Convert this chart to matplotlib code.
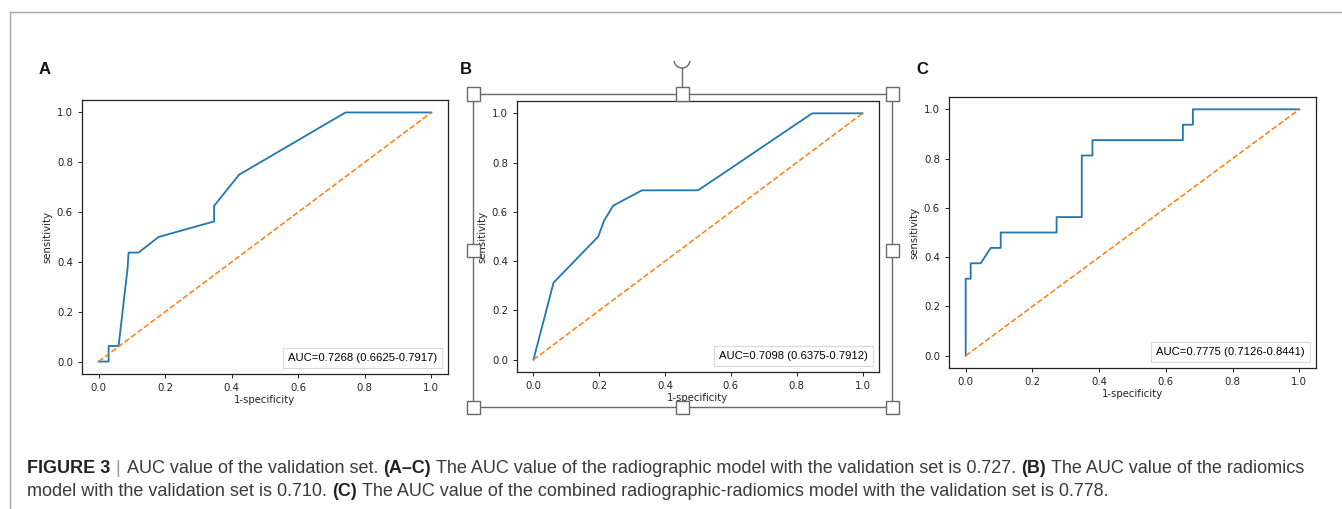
import matplotlib
matplotlib.use("Agg")
import matplotlib.pyplot as plt
from matplotlib.patches import Rectangle, Arc
from matplotlib.lines import Line2D

# ---------------- data ----------------
fpr_a = [0, 0.03, 0.03, 0.06, 0.087, 0.09, 0.12, 0.18, 0.347, 0.347, 0.422, 0.742, 1.0]
tpr_a = [0, 0, 0.0625, 0.0625, 0.375, 0.4375, 0.4375, 0.5, 0.5625, 0.625, 0.75, 1.0, 1.0]

fpr_b = [0, 0.061, 0.197, 0.214, 0.242, 0.330, 0.5, 0.57, 0.847, 1.0]
tpr_b = [0, 0.3125, 0.5, 0.5625, 0.625, 0.6875, 0.6875, 0.75, 1.0, 1.0]

fpr_c = [0, 0, 0.015, 0.015, 0.045, 0.075, 0.105, 0.105, 0.2725, 0.2725,
         0.348, 0.348, 0.38, 0.38, 0.651, 0.651, 0.681, 0.681, 1.0]
tpr_c = [0, 0.3125, 0.3125, 0.375, 0.375, 0.4375, 0.4375, 0.5, 0.5, 0.5625,
         0.5625, 0.8125, 0.8125, 0.875, 0.875, 0.9375, 0.9375, 1.0, 1.0]

chance = [0, 1]
panel_letters = ["A", "B", "C"]
auc_labels = ["AUC=0.7268 (0.6625-0.7917)",
              "AUC=0.7098 (0.6375-0.7912)",
              "AUC=0.7775 (0.7126-0.8441)"]
ticks = [0.0, 0.2, 0.4, 0.6, 0.8, 1.0]
xlabel = "1-specificity"
ylabel = "sensitivity"

caption_line1 = [("FIGURE 3", "bold", "#222222"),
                 ("|", "normal", "#9a9a9a"),
                 ("AUC value of the validation set.", "normal", "#3a3a3a"),
                 ("(A\u2013C)", "bold", "#222222"),
                 ("The AUC value of the radiographic model with the validation set is 0.727.", "normal", "#3a3a3a"),
                 ("(B)", "bold", "#222222"),
                 ("The AUC value of the radiomics", "normal", "#3a3a3a")]
caption_line2 = [("model with the validation set is 0.710.", "normal", "#3a3a3a"),
                 ("(C)", "bold", "#222222"),
                 ("The AUC value of the combined radiographic-radiomics model with the validation set is 0.778.", "normal", "#3a3a3a")]

# ---------------- figure ----------------
W, H = 1342, 509
fig = plt.figure(figsize=(W / 100, H / 100), dpi=100)
fig.patch.set_facecolor("white")


def fx(x):
    return x / W


def fy(y):
    return 1 - y / H


# axes rectangles in pixel coordinates (left, top, right, bottom)
boxes = [(82, 100, 448, 374), (517, 101, 879, 372), (949, 97, 1316, 368)]
curves = [(fpr_a, tpr_a), (fpr_b, tpr_b), (fpr_c, tpr_c)]
letter_pos = [(45, 70), (466, 70), (922, 70)]

for (l, t, r, b), (fx_, ty_), lab, letter, (lx, ly) in zip(boxes, curves, auc_labels, panel_letters, letter_pos):
    ax = fig.add_axes([fx(l), fy(b), fx(r - l), (b - t) / H])
    ax.plot(fx_, ty_, color="#1f77b4", lw=1.3, label=lab)
    ax.plot(chance, chance, color="#ff7f0e", lw=1.1, ls="--")
    ax.set_xlim(-0.05, 1.05)
    ax.set_ylim(-0.05, 1.05)
    ax.set_xticks(ticks)
    ax.set_yticks(ticks)
    ax.tick_params(labelsize=7.3, length=3, width=0.7, colors="#222222")
    ax.set_xlabel(xlabel, fontsize=7.3, labelpad=1.5, color="#222222")
    ax.set_ylabel(ylabel, fontsize=7.3, labelpad=3, color="#222222")
    for s in ax.spines.values():
        s.set_linewidth(0.9)
        s.set_color("#222222")
    h = Line2D([], [], lw=0)
    leg = ax.legend([h], [lab], loc="lower right", handlelength=0, handletextpad=0,
                    prop={"family": "Liberation Sans", "size": 8.1}, fancybox=False,
                    borderpad=0.45, borderaxespad=0.55)
    leg.get_frame().set_edgecolor("#d0d0d0")
    leg.get_frame().set_linewidth(0.8)
    fig.text(fx(lx), fy(ly), letter, fontsize=12, fontweight="bold",
             family="Liberation Sans", ha="center", va="center", color="#111111")

# outer light frame
fig.add_artist(Line2D([fx(9.5), fx(W)], [fy(12), fy(12)], color="#a8a8a8", lw=1.0,
                      transform=fig.transFigure))
fig.add_artist(Line2D([fx(9.5), fx(9.5)], [fy(12), fy(H)], color="#a8a8a8", lw=1.0,
                      transform=fig.transFigure))

# selection frame around panel B
sl, st, sr, sb = 473, 94, 892, 407
fc = "#6a6a6a"
fig.add_artist(Rectangle((fx(sl), fy(sb)), fx(sr - sl), (sb - st) / H, fill=False,
                         edgecolor=fc, lw=1.0, transform=fig.transFigure))
fig.add_artist(Line2D([fx(682), fx(682)], [fy(68), fy(st)], color=fc, lw=1.0,
                      transform=fig.transFigure))
fig.add_artist(Arc((fx(682), fy(60)), 16 / W, 16 / H, theta1=195, theta2=345,
                   edgecolor=fc, lw=1.0, transform=fig.transFigure))
hs = 13
my = (st + sb) / 2
for (hx, hy) in [(sl, st), (682, st), (sr, st), (sl, my), (sr, my), (sl, sb), (682, sb), (sr, sb)]:
    fig.add_artist(Rectangle((fx(hx - hs / 2), fy(hy + hs / 2)), hs / W, hs / H,
                             facecolor="white", edgecolor=fc, lw=1.0,
                             transform=fig.transFigure, zorder=10))

# caption with mixed weights
renderer = fig.canvas.get_renderer()


def draw_runs(runs, x0, ybase, size, keep=True):
    space_px = 0.278 * size * 100 / 72
    x = x0
    made = []
    for s, w, c in runs:
        t = fig.text(fx(x), fy(ybase), s, fontsize=size, fontweight=w, color=c,
                     family="Liberation Sans", ha="left", va="baseline")
        bb = t.get_window_extent(renderer)
        made.append(t)
        x += bb.width + space_px
        if s == "|":
            x += 2
    if not keep:
        for t in made:
            t.remove()
    return x - space_px


# fit the first caption line to the reference's text width
base = 11.0
end = draw_runs(caption_line1, 27, 473, base, keep=False)
cap_size = base * (1303 - 27) / (end - 27)
draw_runs(caption_line1, 27, 473, cap_size)
draw_runs(caption_line2, 27, 496, cap_size)

fig.savefig("out.png", dpi=100, facecolor="white")
